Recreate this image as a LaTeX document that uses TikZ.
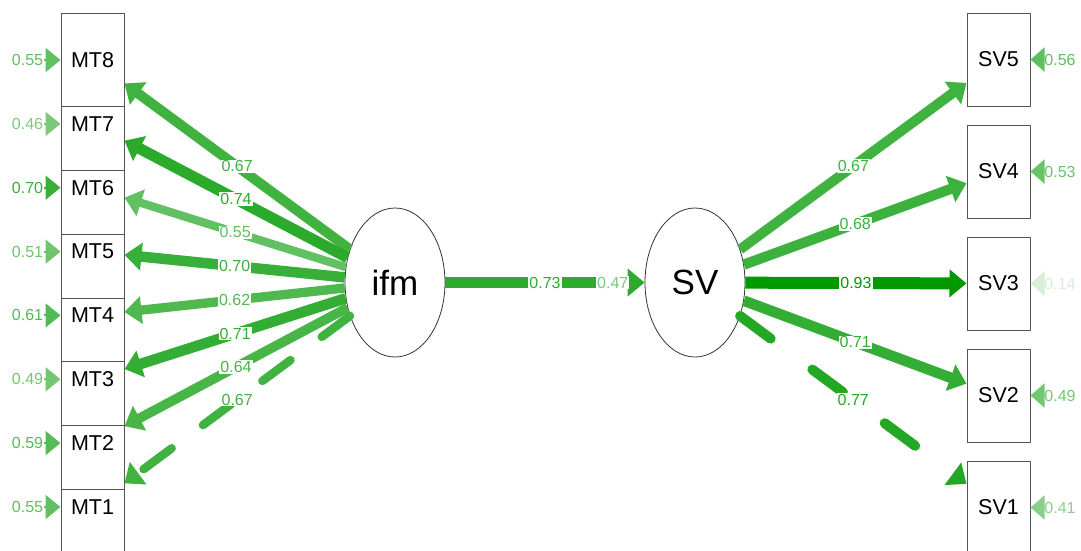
\documentclass[tikz,border=0pt]{standalone}
\usepackage{fontspec}
\setmainfont{Liberation Sans}
\usetikzlibrary{arrows.meta,shapes.geometric}
\definecolor{gbase}{HTML}{009900}
\definecolor{boxgray}{HTML}{555555}
\begin{document}
\begin{tikzpicture}[x=1pt,y=-1pt,
 obox/.style={draw=boxgray, line width=1pt, fill=white, minimum width=63pt, minimum height=93pt, inner sep=0pt, font=\fontsize{21.5}{24}\selectfont},
 lat/.style={draw=black!80, line width=0.8pt, fill=white, ellipse, minimum width=100pt, minimum height=149pt, inner sep=0pt, font=\fontsize{35}{40}\selectfont},
 elab/.style={fill=white, inner sep=1pt, font=\fontsize{16}{18}\selectfont, midway},
 conn/.style={-{Triangle[length=17pt,width=27pt]}},
 dshA/.style={line cap=round, dash pattern=on 35pt off 39pt},
 dshB/.style={line cap=round, dash pattern=on 38pt off 52pt},
 rlab/.style={inner sep=1pt, font=\fontsize{16}{18}\selectfont},
 rarr/.style={line width=2pt, -{Triangle[length=15pt,width=24pt]}},
 rarrR/.style={line width=2pt, -{Triangle[length=14pt,width=24pt]}},
]
\useasboundingbox (0,0) rectangle (1081,550);
\fill[white] (0,0) rectangle (1081,550);

% observed boxes, left (drawn bottom to top so upper boxes overlap)
\node[obox] (MT1) at (92.5,507) {MT1};
\node[obox] (MT2) at (92.5,443.1) {MT2};
\node[obox] (MT3) at (92.5,379.3) {MT3};
\node[obox] (MT4) at (92.5,315.4) {MT4};
\node[obox] (MT5) at (92.5,251.6) {MT5};
\node[obox] (MT6) at (92.5,187.7) {MT6};
\node[obox] (MT7) at (92.5,123.9) {MT7};
\node[obox] (MT8) at (92.5,60) {MT8};

% observed boxes, right
\node[obox] (SV5) at (998.5,59.5) {SV5};
\node[obox] (SV4) at (998.5,171.5) {SV4};
\node[obox] (SV3) at (998.5,283.5) {SV3};
\node[obox] (SV2) at (998.5,395.5) {SV2};
\node[obox] (SV1) at (998.5,507.5) {SV1};

% latent variables
\node[lat] (ifm) at (395,282.5) {ifm};
\node[lat] (SV) at (695,282.5) {SV};

% loadings ifm
\draw[conn, line width=10pt, gbase!75!white] (ifm) -- node[elab]{0.67} (MT8);
\draw[conn, line width=11.1pt, gbase!83!white] (ifm) -- node[elab]{0.74} (MT7);
\draw[conn, line width=8.3pt, gbase!62!white] (ifm) -- node[elab]{0.55} (MT6);
\draw[conn, line width=10.5pt, gbase!78!white] (ifm) -- node[elab]{0.70} (MT5);
\draw[conn, line width=9.3pt, gbase!69!white] (ifm) -- node[elab]{0.62} (MT4);
\draw[conn, line width=10.6pt, gbase!80!white] (ifm) -- node[elab]{0.71} (MT3);
\draw[conn, line width=9.6pt, gbase!72!white] (ifm) -- node[elab]{0.64} (MT2);
\draw[conn, dshA, line width=8.5pt, gbase!75!white] (ifm) -- node[elab]{0.67} (MT1);

% regression
\draw[conn, line width=11pt, gbase!82!white] (ifm) -- node[elab]{0.73} node[elab, pos=0.84, text=gbase!53!white]{0.47} (SV);

% loadings SV
\draw[conn, line width=10pt, gbase!75!white] (SV) -- node[elab]{0.67} (SV5);
\draw[conn, line width=10.2pt, gbase!76!white] (SV) -- node[elab]{0.68} (SV4);
\draw[conn, line width=12pt, gbase] (SV) -- node[elab]{0.93} (SV3);
\draw[conn, line width=10.6pt, gbase!80!white] (SV) -- node[elab]{0.71} (SV2);
\draw[conn, dshB, line width=10pt, gbase!86!white] (SV) -- node[elab]{0.77} (SV1);

% residuals left
\node[rlab, text=gbase!62!white] (r8) at (27.5,60) {0.55};
\node[rlab, text=gbase!52!white] (r7) at (27.5,123.9) {0.46};
\node[rlab, text=gbase!78!white] (r6) at (27.5,187.7) {0.70};
\node[rlab, text=gbase!57!white] (r5) at (27.5,251.6) {0.51};
\node[rlab, text=gbase!68!white] (r4) at (27.5,315.4) {0.61};
\node[rlab, text=gbase!55!white] (r3) at (27.5,379.3) {0.49};
\node[rlab, text=gbase!66!white] (r2) at (27.5,443.1) {0.59};
\node[rlab, text=gbase!62!white] (r1) at (27.5,507) {0.55};
\draw[rarr, gbase!62!white] (r8) -- (MT8);
\draw[rarr, gbase!52!white] (r7) -- (MT7);
\draw[rarr, gbase!78!white] (r6) -- (MT6);
\draw[rarr, gbase!57!white] (r5) -- (MT5);
\draw[rarr, gbase!68!white] (r4) -- (MT4);
\draw[rarr, gbase!55!white] (r3) -- (MT3);
\draw[rarr, gbase!66!white] (r2) -- (MT2);
\draw[rarr, gbase!62!white] (r1) -- (MT1);

% residuals right
\node[rlab, text=gbase!63!white] (s5) at (1060,59.5) {0.56};
\node[rlab, text=gbase!59!white] (s4) at (1060,171.5) {0.53};
\node[rlab, text=gbase!16!white] (s3) at (1060,283.5) {0.14};
\node[rlab, text=gbase!55!white] (s2) at (1060,395.5) {0.49};
\node[rlab, text=gbase!46!white] (s1) at (1060,507.5) {0.41};
\draw[rarrR, gbase!63!white] (s5) -- (SV5);
\draw[rarrR, gbase!59!white] (s4) -- (SV4);
\draw[rarrR, gbase!16!white] (s3) -- (SV3);
\draw[rarrR, gbase!55!white] (s2) -- (SV2);
\draw[rarrR, gbase!46!white] (s1) -- (SV1);
\end{tikzpicture}
\end{document}
